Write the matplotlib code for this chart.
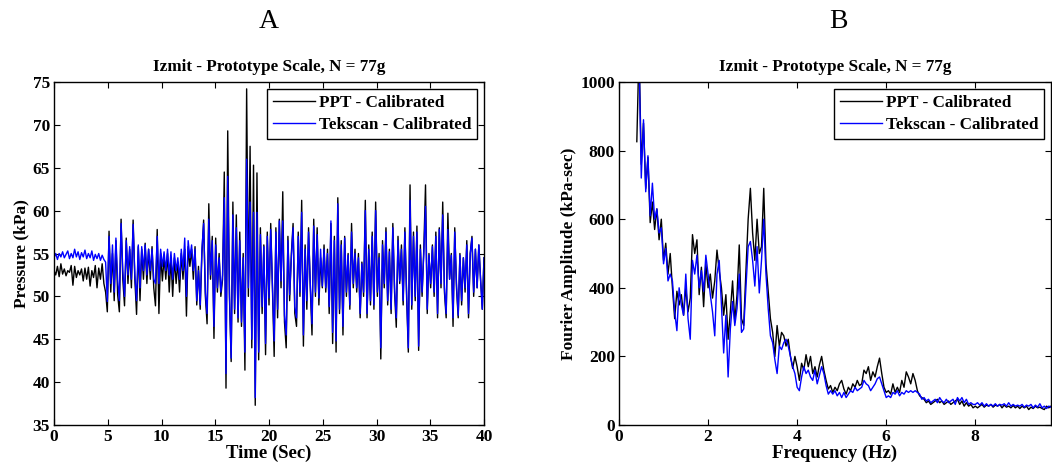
import numpy as np
import matplotlib
matplotlib.use("Agg")
import matplotlib.pyplot as plt

plt.rcParams['font.family'] = ['Liberation Serif', 'DejaVu Serif']
plt.rcParams['font.weight'] = 'bold'

# ---------------- Panel A data: pressure time history (dt = 0.16 s) ----------------
dt = 0.16
ppt_pressure = [
    53.0, 52.5, 53.5, 52.3, 53.8, 52.6, 53.2, 52.4, 53.0, 52.8, 53.6, 51.3, 53.5, 52.2, 53.0, 52.5,
    53.2, 51.8, 53.3, 52.0, 53.4, 51.2, 53.0, 52.2, 53.6, 51.0, 53.3, 52.0, 53.8, 51.5, 50.5,
    48.2, 57.6, 50.5, 55.0, 49.5, 56.5, 50.2, 48.2, 59.0, 52.0, 48.9, 56.8, 51.5, 55.5, 51.0, 58.9,
    52.0, 47.9, 55.8, 49.5, 55.5, 52.0, 56.2, 51.5, 55.5, 52.0, 55.8, 51.0, 48.9, 57.8, 48.0, 55.0,
    51.8, 54.5, 52.0, 55.0, 50.5, 54.5, 50.0, 54.5, 51.5, 54.0, 50.5, 55.0, 52.0, 55.5, 47.7, 55.8,
    53.5, 55.5, 52.0,
    55.8, 49.0, 53.5, 48.5, 55.0, 58.9, 50.0, 46.8, 60.8, 52.0, 57.0, 45.1,
    56.8, 50.5, 55.0, 50.0, 52.0, 64.5, 39.3, 69.3, 50.0, 42.4, 61.0, 48.0, 59.5, 47.0, 57.5, 46.5,
    55.0, 41.4, 74.2, 50.0, 67.5, 44.0, 65.3, 37.3, 64.4, 42.6,
    58.0, 48.0, 56.0, 43.2, 57.5, 49.0, 58.5, 51.0, 43.0, 58.0, 47.5, 59.0, 51.0, 62.2, 47.0, 44.0,
    57.0, 49.5, 55.0, 58.5, 48.0, 46.5, 57.5, 50.0, 61.2, 44.2, 56.0, 48.5, 58.0, 51.0, 45.5, 59.0,
    50.0, 58.0, 49.0, 54.5, 51.0, 56.0, 50.5, 55.5, 48.0, 58.5, 44.5, 57.0, 43.5, 61.5, 48.0, 56.5,
    45.5, 57.0, 50.0, 55.0, 48.5, 58.5, 51.0, 55.5, 50.5, 55.0, 47.5, 54.0, 50.0, 61.2, 47.5, 56.0,
    49.0, 57.5, 48.5, 61.0, 50.0, 55.0, 42.7, 56.5, 51.0, 58.0, 49.0, 55.5, 48.0, 58.5, 50.5, 46.4,
    57.0, 51.5, 56.0, 49.0, 58.0, 50.0, 43.5, 63.0, 48.5, 57.5, 49.5, 58.2, 43.7, 56.0, 50.0, 55.5,
    63.0, 48.0, 55.0, 51.0, 56.0, 50.0, 57.5, 47.5, 58.0, 51.0, 61.0, 50.5, 47.5, 59.7, 52.0, 55.0,
    46.5, 58.0, 51.0, 47.5, 55.0, 49.0, 54.5, 50.5, 56.5, 47.5, 55.0, 57.0, 50.0, 55.5, 51.0, 56.0,
    52.0, 48.5, 54.5,
]
tekscan_pressure = [
    54.5, 55.0, 54.3, 55.0, 54.6, 55.2, 54.5, 54.9, 55.3, 54.4, 55.0, 54.5, 55.5, 54.6, 55.2, 54.3,
    55.1, 54.6, 55.4, 54.4, 55.0, 54.5, 55.3, 54.2, 54.9, 54.4, 55.0, 54.2, 54.8, 54.3, 54.0,
    49.4, 57.0, 51.5, 56.0, 50.5, 56.8, 52.0, 49.5, 58.5, 53.0, 50.0, 56.5, 52.5, 55.8, 52.0, 58.4,
    52.5, 49.5, 56.0, 51.0, 55.8, 53.0, 56.0, 52.5, 55.5, 53.0, 55.5, 52.0, 51.5, 57.0, 51.5, 55.5,
    53.5, 55.2, 53.0, 55.5, 52.5, 55.2, 52.0, 55.0, 53.0, 54.5, 52.0, 55.5, 53.0, 56.8, 50.0, 56.5,
    54.5, 56.0, 53.0,
    55.5, 49.5, 53.0, 49.0, 55.5, 58.5, 50.5, 48.0, 59.0, 52.5, 56.5, 46.5,
    56.0, 51.0, 54.5, 50.5, 52.5, 61.5, 41.0, 64.0, 50.5, 42.8, 59.5, 48.5, 58.0, 47.5, 56.5, 47.0,
    54.5, 43.5, 66.0, 51.0, 61.0, 45.0, 59.8, 38.2, 59.8, 43.5,
    57.2, 48.8, 55.8, 44.5, 57.0, 49.8, 57.8, 51.5, 44.8, 57.5, 48.5, 58.8, 51.8, 58.8, 47.8, 45.5,
    56.5, 50.2, 54.5, 58.0, 48.8, 47.5, 57.0, 50.5, 59.8, 45.5, 55.5, 49.5, 57.5, 51.5, 46.8, 58.2,
    50.5, 57.2, 49.8, 55.5, 51.2, 55.5, 51.0, 55.0, 48.8, 58.8, 45.8, 56.5, 44.8, 60.8, 48.5, 56.0,
    46.5, 56.8, 50.5, 54.8, 49.0, 57.5, 51.5, 55.0, 51.0, 54.5, 48.0, 53.8, 50.5, 60.0, 48.0, 55.5,
    49.5, 57.0, 49.0, 60.0, 50.5, 54.5, 44.0, 56.0, 51.5, 57.5, 49.5, 55.2, 48.5, 58.0, 51.0, 47.5,
    56.5, 51.8, 55.5, 49.5, 57.5, 50.5, 44.0, 61.2, 49.0, 57.0, 50.0, 57.5, 44.2, 55.5, 50.5, 55.0,
    60.5, 48.5, 54.8, 51.5, 55.8, 50.5, 57.0, 48.0, 57.8, 51.5, 59.5, 51.0, 48.0, 57.8, 52.0, 54.8,
    47.5, 57.5, 51.5, 47.8, 54.8, 49.5, 54.5, 51.0, 56.0, 48.0, 55.0, 56.8, 50.5, 55.5, 51.0, 56.0,
    52.0, 48.5, 54.5,
]

# ---------------- Panel B data: Fourier amplitude (df = 0.05 Hz from 0.40 Hz) ----------------
f_start, df = 0.40, 0.05
ppt_fourier = [
    826, 1100, 760, 880, 690, 780, 590, 650, 570, 630, 540, 600, 480, 530, 440, 500,
    400, 310, 390, 350, 380, 320, 400, 330, 370, 555, 500, 540, 380, 460, 345, 470,
    400, 440, 370, 420, 510, 450, 400, 320, 380, 250, 330, 420, 300, 380, 525, 310,
    290, 450, 600, 690, 560, 480, 600, 500, 520, 690, 470, 390, 310, 270, 200, 290,
    230, 270, 260, 230, 250, 200, 165, 200, 170, 130, 180, 160, 205, 170, 200, 150,
    170, 140, 175, 200, 160, 130, 105, 115, 95, 110, 100, 120, 130, 105, 90, 110,
    100, 120, 110, 130, 115, 120, 160, 150, 170, 130, 155, 140, 170, 195, 150, 110,
    95, 100, 90, 120, 95, 110, 95, 130, 110, 155, 140, 120, 150, 130, 100, 85,
    80, 75, 65, 70, 60, 65, 70, 75, 65, 70, 60, 65, 70, 60, 65, 70,
    75, 60, 70, 55, 65, 55, 60, 50, 55, 50, 55, 60, 52, 58, 55, 60,
    52, 58, 55, 60, 50, 58, 52, 55, 50, 57, 50, 55, 48, 55, 50, 55,
    45, 52, 48, 55, 50, 52, 48, 45, 55, 50, 55,
]
tekscan_fourier = [
    1050, 1080, 720, 890, 680, 785, 610, 705, 600, 630, 560, 575, 470, 515, 420, 440,
    420, 330, 275, 400, 350, 320, 440, 310, 250, 480, 440, 495, 400, 450, 390, 495,
    440, 380, 330, 260, 440, 480, 350, 210, 320, 140, 280, 360, 290, 340, 440, 270,
    280, 400, 520, 535, 480, 405, 520, 385, 480, 600, 440, 340, 260, 240, 190, 150,
    230, 220, 240, 250, 230, 200, 170, 150, 110, 100, 140, 170, 150, 160, 140, 130,
    160, 120, 145, 170, 150, 115, 90, 100, 90, 100, 85, 95, 80, 95, 80, 90,
    100, 95, 110, 100, 105, 110, 130, 120, 115, 100, 110, 120, 135, 140, 120, 100,
    80, 85, 80, 95, 90, 100, 85, 95, 90, 100, 95, 100, 95, 100, 95, 90,
    75, 80, 70, 75, 65, 70, 75, 65, 80, 70, 65, 75, 65, 70, 75, 60,
    80, 70, 80, 65, 75, 60, 65, 60, 60, 65, 58, 65, 55, 62, 55, 60,
    55, 62, 55, 60, 58, 62, 55, 65, 55, 60, 55, 58, 55, 60, 52, 58,
    55, 60, 50, 58, 52, 62, 50, 55, 48, 55, 52,
]

series_labels = ["PPT - Calibrated", "Tekscan - Calibrated"]
panel_title = "Izmit - Prototype Scale, N = 77g"

time = np.arange(len(ppt_pressure)) * dt
freq = f_start + np.arange(len(ppt_fourier)) * df

W, H = 1052, 471
fig = plt.figure(figsize=(W / 100, H / 100), dpi=100)

axA = fig.add_axes([54 / W, 1 - 425 / H, 430 / W, 343 / H])
axB = fig.add_axes([619 / W, 1 - 425 / H, 432 / W, 343 / H])

lw = 1.0
axA.plot(time, ppt_pressure, color='black', lw=lw, label=series_labels[0])
axA.plot(time, tekscan_pressure, color='#0000ff', lw=lw, label=series_labels[1])
axA.set_xlim(0, 40)
axA.set_ylim(35, 75)
axA.set_xticks(np.arange(0, 41, 5))
axA.set_yticks(np.arange(35, 76, 5))
axA.set_xlabel("Time (Sec)", fontsize=13.5, fontweight='bold', labelpad=0)
axA.set_ylabel("Pressure (kPa)", fontsize=12.5, fontweight='bold', labelpad=2)

axB.plot(freq, ppt_fourier, color='black', lw=lw, label=series_labels[0])
axB.plot(freq, tekscan_fourier, color='#0000ff', lw=lw, label=series_labels[1])
axB.set_xlim(0, 9.7)
axB.set_ylim(0, 1000)
axB.set_xticks([0, 2, 4, 6, 8])
axB.set_yticks(np.arange(0, 1001, 200))
axB.set_xlabel("Frequency (Hz)", fontsize=13.5, fontweight='bold', labelpad=0)
axB.set_ylabel("Fourier Amplitude (kPa-sec)", fontsize=12.5, fontweight='bold', labelpad=2)

for ax in (axA, axB):
    ax.set_title(panel_title, fontsize=12.3, fontweight='bold', pad=8)
    ax.tick_params(direction='in', length=4, width=0.8, top=True, right=True,
                   labelsize=12.5, pad=3)
    for lab in ax.get_xticklabels() + ax.get_yticklabels():
        lab.set_fontweight('bold')
    for sp in ax.spines.values():
        sp.set_linewidth(1.0)
    leg = ax.legend(loc='upper right', frameon=True, fancybox=False,
                    edgecolor='black', borderpad=0.35, handlelength=2.5,
                    handletextpad=0.2, labelspacing=0.35, borderaxespad=0.4,
                    prop={'weight': 'bold', 'size': 12.3})
    leg.get_frame().set_linewidth(1.0)
    leg.get_frame().set_alpha(1)

fig.text(269 / W, 1 - 21 / H, "A", fontsize=20, fontweight='normal', ha='center', va='center')
fig.text(838 / W, 1 - 21 / H, "B", fontsize=20, fontweight='normal', ha='center', va='center')

fig.savefig("out.png", dpi=100)
